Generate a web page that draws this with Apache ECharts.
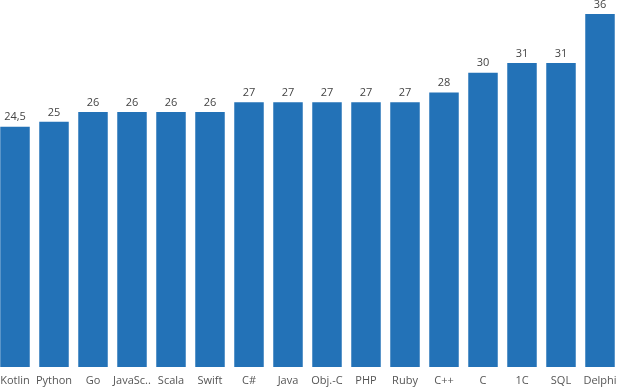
<!DOCTYPE html>
<html><head><meta charset="utf-8">
<script src="https://cdn.jsdelivr.net/npm/echarts@6/dist/echarts.min.js"></script>
<style>html,body{margin:0;padding:0;background:#fff}#c{width:617px;height:387px}</style>
</head><body><div id="c"></div>
<script>
const categories = ["Kotlin","Python","Go","JavaSc..","Scala","Swift","C#","Java","Obj.-C","PHP","Ruby","C++","C","1C","SQL","Delphi"];
const values = [24.5,25,26,26,26,26,27,27,27,27,27,28,30,31,31,36];
const chart = echarts.init(document.getElementById('c'));
chart.setOption({
  animation:false,
  grid:{left:-4.5,width:624,top:14,bottom:20,containLabel:false,outerBoundsMode:'none'},
  xAxis:{type:'category',data:categories,axisLine:{show:false},axisTick:{show:false},
    axisLabel:{interval:0,color:'#555',fontFamily:'Open Sans',fontSize:11,margin:8}},
  yAxis:{type:'value',min:0,max:36,show:false},
  series:[{type:'bar',data:values,barWidth:29.5,itemStyle:{color:'#2372b7'},
    label:{show:true,position:'top',color:'#444',fontFamily:'Open Sans',fontSize:11,distance:4,
      formatter:p=>String(p.value).replace('.',',')}}]
});
</script></body></html>
